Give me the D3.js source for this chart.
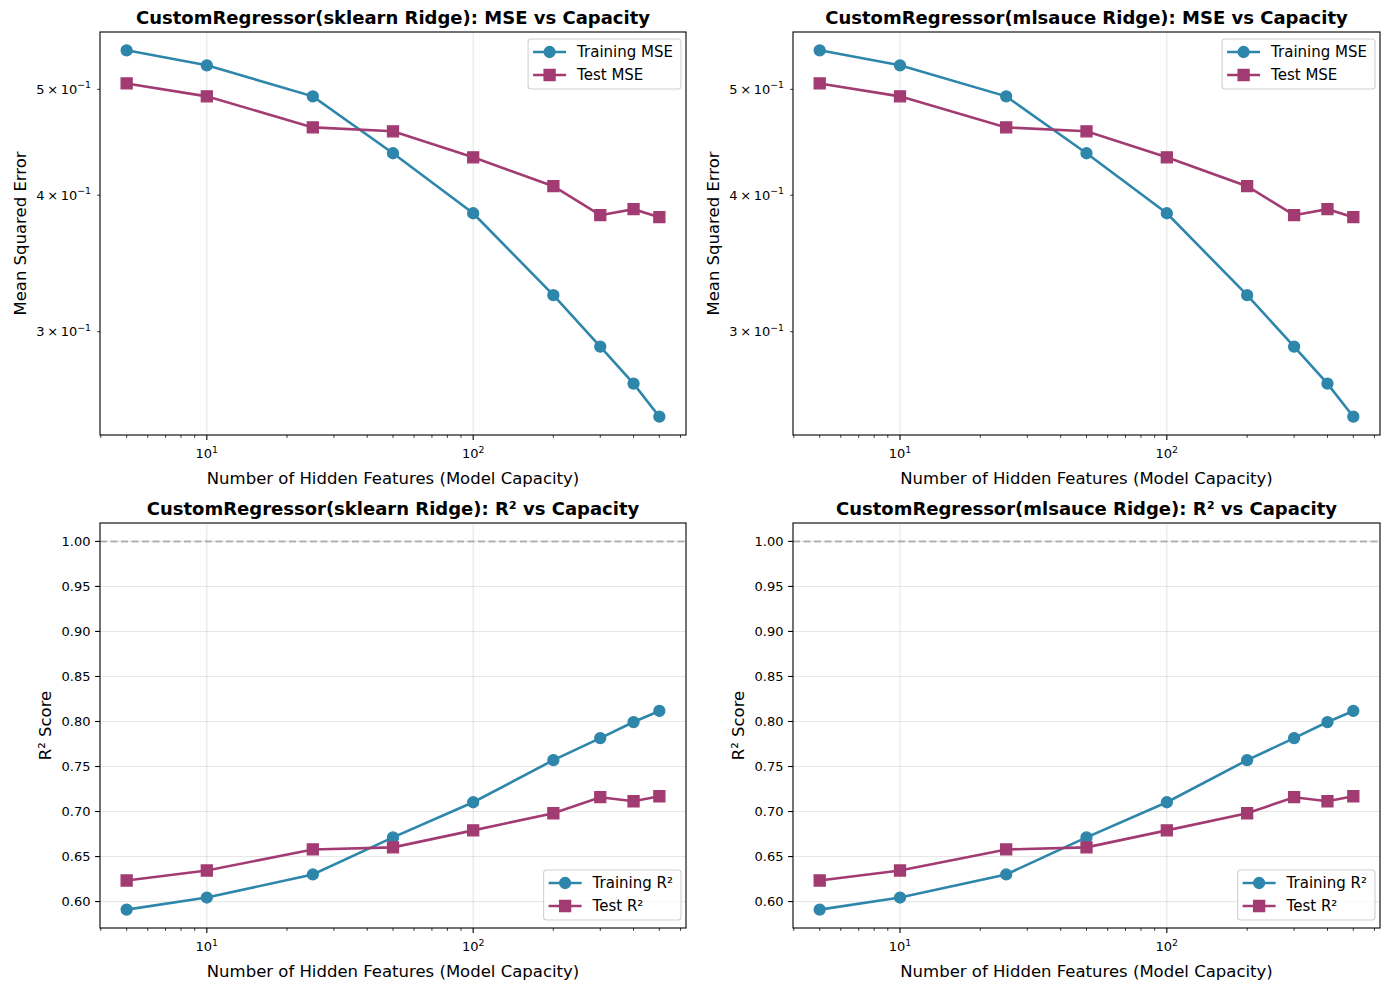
<!DOCTYPE html>
<html><head><meta charset="utf-8">
<script src="https://cdn.jsdelivr.net/npm/d3@7"></script>
<style>body{margin:0;background:#fff} svg text{font-family:"DejaVu Sans",sans-serif}</style>
</head><body><svg id="c" width="1389" height="989"></svg>
<script>
// ---- data ----
const capacities = [5, 10, 25, 50, 100, 200, 300, 400, 500];
const sklearnTrainMSE = [0.5429, 0.5260, 0.4927, 0.4370, 0.3851, 0.3240, 0.2907, 0.2689, 0.2508];
const sklearnTestMSE  = [0.5063, 0.4927, 0.4615, 0.4577, 0.4333, 0.4077, 0.3835, 0.3884, 0.3819];
const mlsauceTrainMSE = [0.5429, 0.5260, 0.4927, 0.4370, 0.3851, 0.3240, 0.2907, 0.2689, 0.2508];
const mlsauceTestMSE  = [0.5063, 0.4927, 0.4615, 0.4577, 0.4333, 0.4077, 0.3835, 0.3884, 0.3819];
const sklearnTrainR2  = [0.5911, 0.6045, 0.6301, 0.6713, 0.7103, 0.7571, 0.7816, 0.7994, 0.8117];
const sklearnTestR2   = [0.6234, 0.6345, 0.6579, 0.6602, 0.6791, 0.6981, 0.7159, 0.7114, 0.7170];
const mlsauceTrainR2  = [0.5911, 0.6045, 0.6301, 0.6713, 0.7103, 0.7571, 0.7816, 0.7994, 0.8117];
const mlsauceTestR2   = [0.6234, 0.6345, 0.6579, 0.6602, 0.6791, 0.6981, 0.7159, 0.7114, 0.7170];
const xMajorTicks = [10, 100];
const mseTicks = [0.3, 0.4, 0.5];
const mseTickMantissa = ["3", "4", "5"];
const r2Ticks = [0.60, 0.65, 0.70, 0.75, 0.80, 0.85, 0.90, 0.95, 1.00];
const r2Reference = 1.0;
const seriesNames = ["Training", "Test"];
const models = ["sklearn Ridge", "mlsauce Ridge"];
const xLabel = "Number of Hidden Features (Model Capacity)";

const C_TRAIN = "#2E86AB", C_TEST = "#A23B72";
const svg = d3.select("#c");
const cols = [[100, 686], [793, 1380]];
const rows = [[32, 435], [523, 928]];

function supText(g, x, y, parts, sup, anchor, size) {
  const t = g.append("text").attr("x", x).attr("y", y).attr("text-anchor", anchor)
    .attr("font-size", size).attr("fill", "#000");
  parts.forEach(p => { const s = t.append("tspan").text(p.t); if (p.dx) s.attr("dx", p.dx); });
  t.append("tspan").attr("font-size", size * 0.72).attr("dy", -size * 0.42).text(sup);
  return t;
}

function panel(ci, ri, train, test, kind, model) {
  const [L, R] = cols[ci], [T, B] = rows[ri];
  const g = svg.append("g");
  const lx = capacities.map(d => Math.log10(d));
  const lxMin = d3.min(lx), lxMax = d3.max(lx), mx = (lxMax - lxMin) * 0.05;
  const x = d3.scaleLog().domain([10 ** (lxMin - mx), 10 ** (lxMax + mx)]).range([L, R]);
  let y;
  const all = train.concat(test);
  if (kind === "mse") {
    const ly = all.map(d => Math.log10(d));
    const a = d3.min(ly), b = d3.max(ly), m = (b - a) * 0.05;
    y = d3.scaleLog().domain([10 ** (a - m), 10 ** (b + m)]).range([B, T]);
  } else {
    const a = d3.min(all.concat([r2Reference])), b = d3.max(all.concat([r2Reference])), m = (b - a) * 0.05;
    y = d3.scaleLinear().domain([a - m, b + m]).range([B, T]);
  }
  // grid
  const gc = "rgba(176,176,176,0.3)";
  xMajorTicks.forEach(v => g.append("line").attr("x1", x(v)).attr("x2", x(v)).attr("y1", T).attr("y2", B)
    .attr("stroke", gc).attr("stroke-width", 1.1));
  if (kind === "r2") {
    r2Ticks.forEach(v => g.append("line").attr("x1", L).attr("x2", R).attr("y1", y(v)).attr("y2", y(v))
      .attr("stroke", gc).attr("stroke-width", 1.1));
    g.append("line").attr("x1", L).attr("x2", R).attr("y1", y(r2Reference)).attr("y2", y(r2Reference))
      .attr("stroke", "rgba(128,128,128,0.55)").attr("stroke-width", 2).attr("stroke-dasharray", "7,3.5");
  }
  // lines + markers
  const line = d3.line().x((d, i) => x(capacities[i])).y(d => y(d));
  g.append("path").datum(train).attr("d", line).attr("fill", "none").attr("stroke", C_TRAIN).attr("stroke-width", 2.6);
  g.append("path").datum(test).attr("d", line).attr("fill", "none").attr("stroke", C_TEST).attr("stroke-width", 2.6);
  g.selectAll(null).data(train).join("circle").attr("cx", (d, i) => x(capacities[i])).attr("cy", d => y(d))
    .attr("r", 5.5).attr("fill", C_TRAIN).attr("stroke", C_TRAIN).attr("stroke-width", 1.3);
  const sq = d3.symbol().type(d3.symbolSquare).size(121);
  g.selectAll(null).data(test).join("path").attr("d", sq)
    .attr("transform", (d, i) => `translate(${x(capacities[i])},${y(d)})`)
    .attr("fill", C_TEST).attr("stroke", C_TEST).attr("stroke-width", 1.3);
  // frame
  g.append("rect").attr("x", L).attr("y", T).attr("width", R - L).attr("height", B - T)
    .attr("fill", "none").attr("stroke", "#000").attr("stroke-width", 1.1);
  // x ticks
  const [d0, d1] = x.domain();
  const minor = [];
  for (let e = 0; e <= 3; e++) for (let k = 2; k <= 9; k++) { const v = k * 10 ** e; if (v >= d0 && v <= d1) minor.push(v); }
  minor.forEach(v => g.append("line").attr("x1", x(v)).attr("x2", x(v)).attr("y1", B).attr("y2", B + 2.8).attr("stroke", "#000").attr("stroke-width", 0.8));
  xMajorTicks.forEach(v => {
    g.append("line").attr("x1", x(v)).attr("x2", x(v)).attr("y1", B).attr("y2", B + 4.9).attr("stroke", "#000").attr("stroke-width", 1.1);
    supText(g, x(v), B + 23, [{t: "10"}], String(Math.round(Math.log10(v))), "middle", 13);
  });
  g.append("text").attr("x", (L + R) / 2).attr("y", B + 49).attr("text-anchor", "middle").attr("font-size", 16.5).text(xLabel);
  // y ticks
  if (kind === "mse") {
    mseTicks.forEach((v, i) => {
      g.append("line").attr("x1", L - 2.8).attr("x2", L).attr("y1", y(v)).attr("y2", y(v)).attr("stroke", "#000").attr("stroke-width", 0.8);
      supText(g, L - 9, y(v) + 4.5, [{t: mseTickMantissa[i]}, {t: "\u00d7", dx: 2.6}, {t: "10", dx: 2.6}], "\u22121", "end", 13);
    });
  } else {
    r2Ticks.forEach(v => {
      g.append("line").attr("x1", L - 4.9).attr("x2", L).attr("y1", y(v)).attr("y2", y(v)).attr("stroke", "#000").attr("stroke-width", 1.1);
      g.append("text").attr("x", L - 9.5).attr("y", y(v) + 4.7).attr("text-anchor", "end").attr("font-size", 13).text(v.toFixed(2));
    });
  }
  const ylab = kind === "mse" ? "Mean Squared Error" : "R\u00b2 Score";
  const ylx = kind === "mse" ? L - 74 : L - 49;
  g.append("text").attr("transform", `translate(${ylx},${(T + B) / 2}) rotate(-90)`).attr("text-anchor", "middle")
    .attr("font-size", 16.5).text(ylab);
  // title
  const metric = kind === "mse" ? "MSE" : "R\u00b2";
  g.append("text").attr("x", (L + R) / 2).attr("y", T - 8.5).attr("text-anchor", "middle").attr("font-size", 18)
    .attr("font-weight", "bold").text(`CustomRegressor(${model}): ${metric} vs Capacity`);
  // legend
  const names = seriesNames.map(s => `${s} ${metric}`);
  const lg = g.append("g");
  const box = lg.append("rect").attr("rx", 3).attr("fill", "#fff").attr("fill-opacity", 0.8)
    .attr("stroke", "#d0d0d0").attr("stroke-width", 1.1);
  const texts = names.map((n, i) => lg.append("text").attr("font-size", 15).text(n));
  const w = d3.max(texts, t => t.node().getComputedTextLength());
  const bw = 49 + w + 8, bh = 50;
  const bx = R - 5 - bw;
  const by = kind === "mse" ? T + 7 : B - 8 - bh;
  box.attr("x", bx).attr("y", by).attr("width", bw).attr("height", bh);
  [C_TRAIN, C_TEST].forEach((c, i) => {
    const cy = by + 13 + i * 23;
    lg.append("line").attr("x1", bx + 5).attr("x2", bx + 38).attr("y1", cy).attr("y2", cy).attr("stroke", c).attr("stroke-width", 2.6);
    if (i === 0) lg.append("circle").attr("cx", bx + 21.5).attr("cy", cy).attr("r", 5.5).attr("fill", c).attr("stroke", c).attr("stroke-width", 1.3);
    else lg.append("path").attr("d", sq).attr("transform", `translate(${bx + 21.5},${cy})`).attr("fill", c).attr("stroke", c).attr("stroke-width", 1.3);
    texts[i].attr("x", bx + 49).attr("y", cy + 5.3);
  });
}

panel(0, 0, sklearnTrainMSE, sklearnTestMSE, "mse", models[0]);
panel(1, 0, mlsauceTrainMSE, mlsauceTestMSE, "mse", models[1]);
panel(0, 1, sklearnTrainR2, sklearnTestR2, "r2", models[0]);
panel(1, 1, mlsauceTrainR2, mlsauceTestR2, "r2", models[1]);
</script></body></html>
